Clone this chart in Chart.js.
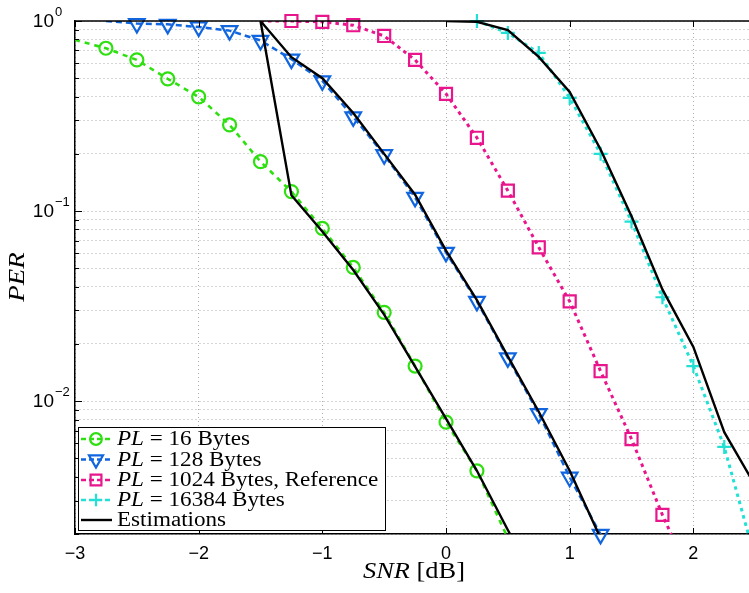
<!DOCTYPE html>
<html><head><meta charset="utf-8">
<script src="https://cdn.jsdelivr.net/npm/chart.js@4/dist/chart.umd.min.js"></script>
<style>html,body{margin:0;padding:0;background:#fff;overflow:hidden}#wrap{width:749px;height:593px;position:relative}</style>
</head><body><div id="wrap"><canvas id="c"></canvas></div>
<script>
// ---- data ----
const snr16 = [-3, -2.75, -2.5, -2.25, -2, -1.75, -1.5, -1.25, -1, -0.75, -0.5, -0.25, 0, 0.25, 0.5];
const per16 = [0.795, 0.719, 0.624, 0.496, 0.399, 0.284, 0.182, 0.1266, 0.081, 0.0505, 0.0293, 0.0153, 0.00776, 0.0043, 0.0019];
const snr128 = [-2.75, -2.5, -2.25, -2, -1.75, -1.5, -1.25, -1, -0.75, -0.5, -0.25, 0, 0.25, 0.5, 0.75, 1, 1.25];
const per128 = [1.0, 0.97, 0.96, 0.93, 0.89, 0.79, 0.63, 0.484, 0.313, 0.198, 0.118, 0.0606, 0.0335, 0.0169, 0.0086, 0.00398, 0.00199];
const snr1024 = [-1.5, -1.25, -1, -0.75, -0.5, -0.25, 0, 0.25, 0.5, 0.75, 1, 1.25, 1.5, 1.75, 2];
const per1024 = [1.0, 1.0, 0.99, 0.95, 0.834, 0.624, 0.414, 0.243, 0.128, 0.0645, 0.0335, 0.01437, 0.00632, 0.00252, 0.0011];
const snr16384 = [0.25, 0.5, 0.75, 1, 1.25, 1.5, 1.75, 2, 2.25, 2.5];
const per16384 = [1.0, 0.865, 0.679, 0.394, 0.2, 0.088, 0.0352, 0.0153, 0.00574, 0.00148];
const estSnr16 = [-1.5, -1.25, -1, -0.75, -0.5, -0.25, 0, 0.25, 0.5, 0.75];
const estPer16 = [1.0, 0.121, 0.078, 0.049, 0.0285, 0.0152, 0.0081, 0.0043, 0.0021, 0.00105];
const estSnr128 = [-1.5, -1.25, -1, -0.75, -0.5, -0.25, 0, 0.25, 0.5, 0.75, 1, 1.25];
const estPer128 = [1.0, 0.645, 0.5, 0.328, 0.2, 0.122, 0.062, 0.034, 0.0172, 0.0088, 0.0043, 0.0019];
const estSnr16384 = [0, 0.25, 0.5, 0.75, 1, 1.25, 1.5, 1.75, 2, 2.25, 2.5];
const estPer16384 = [1.0, 0.99, 0.897, 0.647, 0.423, 0.211, 0.0938, 0.0387, 0.0193, 0.00687, 0.0036];

const xTickValues = [-3, -2, -1, 0, 1, 2];
const yMajorTicks = [1, 0.1, 0.01];
const yMajorExp = ['0', '\u22121', '\u22122'];
const legendLabels = ['PL = 16 Bytes', 'PL = 128 Bytes', 'PL = 1024 Bytes, Reference', 'PL = 16384 Bytes', 'Estimations'];
const xTitle = ['SNR', ' [dB]'];
const yTitle = 'PER';

// ---- styles ----
const Y_MIN = 0.002, Y_MAX = 1, X_MIN = -3, X_MAX = 2.45;
const series = [
  {snr: snr16, per: per16, color: '#2ee010', dash: [5, 5], lw: 2.6, style: 'circle', r: 6.5, rot: 0, mStart: 1},
  {snr: snr128, per: per128, color: '#1166e0', dash: [6, 4], lw: 2.5, style: 'triangle', r: 9, rot: 180, mStart: 1},
  {snr: snr1024, per: per1024, color: '#e8158c', dash: [3.5, 4], lw: 3, style: 'rect', r: 8.5, rot: 0, mStart: 1},
  {snr: snr16384, per: per16384, color: '#22e0d4', dash: [3.5, 4], lw: 3, style: 'cross', r: 7, rot: 0, mStart: 0}
];
const estimations = [[estSnr16, estPer16], [estSnr128, estPer128], [estSnr16384, estPer16384]];

const toXY = (xs, ys) => xs.map((x, i) => ({x: x, y: ys[i]}));

const datasets = [];
estimations.forEach(e => datasets.push({
  data: toXY(e[0], e[1]), showLine: true, borderColor: '#000', borderWidth: 2.4, pointRadius: 0, fill: false, tension: 0
}));
series.forEach(s => datasets.push({
  data: toXY(s.snr, s.per).slice(s.mStart), showLine: false, clip: false,
  pointStyle: s.style, pointRotation: s.rot, borderColor: s.color, pointBorderColor: s.color,
  pointBackgroundColor: 'rgba(0,0,0,0)', pointBorderWidth: 2.2,
  pointRadius: (ctx) => { const v = ctx.raw; return (v && v.y >= Y_MIN * 0.97 && v.x > X_MIN && v.x <= X_MAX) ? s.r : 0; }
}));
series.forEach(s => datasets.push({
  data: toXY(s.snr, s.per), showLine: true, borderColor: s.color, borderWidth: s.lw, borderDash: s.dash,
  pointRadius: 0, fill: false, tension: 0
}));

const yGridValues = [];
for (let e = -3; e <= 0; e++) for (let k = 1; k <= 9; k++) {
  const v = parseFloat((k * Math.pow(10, e)).toPrecision(3));
  if (v >= Y_MIN - 1e-12 && v <= Y_MAX + 1e-12) yGridValues.push(v);
}

function drawMarker(ctx, style, x, y, r, color) {
  ctx.save(); ctx.strokeStyle = color; ctx.lineWidth = 2.2; ctx.setLineDash([]);
  ctx.beginPath();
  if (style === 'circle') { ctx.arc(x, y, r, 0, Math.PI * 2); }
  else if (style === 'triangle') {
    ctx.moveTo(x, y + r); ctx.lineTo(x - r * 0.866, y - r / 2); ctx.lineTo(x + r * 0.866, y - r / 2); ctx.closePath();
  } else if (style === 'rect') { const h = r * Math.SQRT1_2; ctx.rect(x - h, y - h, 2 * h, 2 * h); }
  else if (style === 'cross') { ctx.moveTo(x - r, y); ctx.lineTo(x + r, y); ctx.moveTo(x, y - r); ctx.lineTo(x, y + r); }
  ctx.stroke(); ctx.restore();
}

function drawPieces(ctx, pieces, x, y, size, sx, align) {
  ctx.save();
  let w = 0;
  pieces.forEach(p => { ctx.font = (p[1] ? 'italic ' : '') + size + 'px "Liberation Serif"'; w += ctx.measureText(p[0]).width; });
  ctx.translate(x, y); ctx.scale(sx, 1);
  let cx = align === 'center' ? -w / 2 : 0;
  ctx.textBaseline = 'middle'; ctx.textAlign = 'left'; ctx.fillStyle = '#000';
  pieces.forEach(p => { ctx.font = (p[1] ? 'italic ' : '') + size + 'px "Liberation Serif"'; ctx.fillText(p[0], cx, 0); cx += ctx.measureText(p[0]).width; });
  ctx.restore();
}

const extras = {
  id: 'extras',
  afterDraw(chart) {
    const ctx = chart.ctx, a = chart.chartArea, xs = chart.scales.x, ys = chart.scales.y;
    ctx.save();
    ctx.strokeStyle = '#000'; ctx.lineWidth = 1.5; ctx.setLineDash([]);
    ctx.beginPath(); ctx.moveTo(a.left, a.top); ctx.lineTo(a.right, a.top); ctx.stroke();
    ctx.lineWidth = 1;
    ctx.beginPath();
    xTickValues.forEach(v => { const px = Math.round(xs.getPixelForValue(v)) + 0.5;
      ctx.moveTo(px, a.bottom); ctx.lineTo(px, a.bottom - 6); ctx.moveTo(px, a.top); ctx.lineTo(px, a.top + 6); });
    yGridValues.forEach(v => { const py = Math.round(ys.getPixelForValue(v)) + 0.5;
      const major = yMajorTicks.includes(v); ctx.moveTo(a.left, py); ctx.lineTo(a.left + (major ? 7 : 4), py); });
    ctx.stroke();
    ctx.fillStyle = '#000';
    yMajorTicks.forEach((v, i) => {
      const py = ys.getPixelForValue(v);
      ctx.font = '19px "Liberation Sans"'; ctx.textAlign = 'right'; ctx.textBaseline = 'middle';
      ctx.fillText('10', 54, py + 1);
      ctx.font = '13px "Liberation Sans"'; ctx.textAlign = 'left'; ctx.textBaseline = 'alphabetic';
      ctx.fillText(yMajorExp[i], 55, py - 5);
    });
    ctx.save(); ctx.translate(18, 277); ctx.rotate(-Math.PI / 2);
    drawPieces(ctx, [[yTitle, true]], 0, 0, 24, 1.12, 'center');
    ctx.restore();
    drawPieces(ctx, [[xTitle[0], true], [xTitle[1], false]], 414, 572, 24, 1.1, 'center');
    const lx = 78.5, ly = 427.5, lw = 307, lh = 103;
    ctx.fillStyle = '#fff'; ctx.fillRect(lx, ly, lw, lh);
    ctx.strokeStyle = '#000'; ctx.lineWidth = 1; ctx.setLineDash([]); ctx.strokeRect(lx, ly, lw, lh);
    const rows = [439, 459.5, 480, 500, 520];
    legendLabels.forEach((lab, i) => {
      const y = rows[i];
      const s = series[i];
      ctx.save();
      ctx.strokeStyle = s ? s.color : '#000'; ctx.lineWidth = s ? 2.5 : 2.4;
      ctx.setLineDash(s ? [5, 3] : []);
      ctx.beginPath(); ctx.moveTo(81, y); ctx.lineTo(112, y); ctx.stroke();
      ctx.restore();
      if (s) drawMarker(ctx, s.style, 96, y, s.r * 0.9, s.color);
      if (lab.startsWith('PL')) drawPieces(ctx, [['PL', true], [lab.slice(2), false]], 117, y + 1, 20, 1.155, 'left');
      else drawPieces(ctx, [[lab, false]], 117, y + 1, 20, 1.155, 'left');
    });
    ctx.restore();
  }
};

new Chart(document.getElementById('c'), {
  type: 'scatter',
  data: {datasets: datasets},
  options: {
    responsive: true, maintainAspectRatio: false, animation: false, devicePixelRatio: 1,
    layout: {autoPadding: false, padding: {top: 21, left: 0, right: 0, bottom: 0}},
    plugins: {legend: {display: false}, tooltip: {enabled: false}},
    elements: {line: {tension: 0}},
    scales: {
      x: {
        type: 'linear', min: X_MIN, max: X_MAX,
        afterBuildTicks: s => { s.ticks = xTickValues.map(v => ({value: v})); },
        ticks: {callback: v => v < 0 ? '\u2212' + Math.abs(v) : '' + v, font: {family: 'Liberation Sans', size: 18}, color: '#000', padding: 9, maxRotation: 0, autoSkip: false},
        grid: {color: '#ababab', lineWidth: 1, drawTicks: false},
        border: {display: true, color: '#000', width: 1.5, dash: [1, 3]},
        afterFit: s => { s.height = 59; }
      },
      y: {
        type: 'logarithmic', min: Y_MIN, max: Y_MAX,
        afterBuildTicks: s => { s.ticks = yGridValues.map(v => ({value: v})); },
        ticks: {display: false},
        grid: {color: '#ababab', lineWidth: 1, drawTicks: false},
        border: {display: true, color: '#000', width: 1.5, dash: [1, 3]},
        afterFit: s => { s.width = 75; }
      }
    }
  },
  plugins: [extras]
});
</script>
</body></html>
